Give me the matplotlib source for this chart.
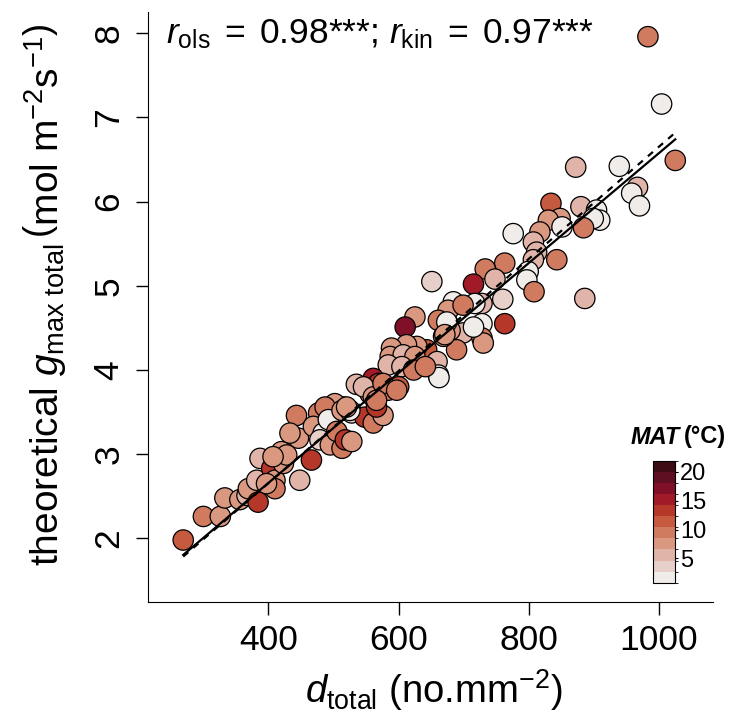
import matplotlib
matplotlib.use("Agg")
import matplotlib.pyplot as plt
import numpy as np
from matplotlib.colors import ListedColormap, BoundaryNorm
from matplotlib.cm import ScalarMappable

plt.rcParams["font.family"] = ["Liberation Sans", "DejaVu Sans"]
plt.rcParams["mathtext.fontset"] = "custom"
plt.rcParams["mathtext.rm"] = "Liberation Sans"
plt.rcParams["mathtext.it"] = "Liberation Sans:italic"
plt.rcParams["mathtext.bf"] = "Liberation Sans:bold"

# stomatal density (no. mm-2), theoretical gmax total, mean annual temperature (°C)
d_total = [
    983, 1004, 1025, 872, 939, 967, 958, 970, 834, 880, 904, 909, 899, 884, 848,
    830, 851, 776, 817, 807, 812, 807, 843, 763, 799, 797, 808, 886, 760, 733,
    748, 715, 728, 717, 728, 763, 699, 728, 651, 684, 676, 699, 625, 610, 676,
    661, 679, 730, 689, 669, 643, 628, 612, 589, 587, 607, 625, 659, 661, 662,
    584, 605, 623, 641, 535, 561, 569, 584, 600, 556, 546, 515, 502, 269, 300,
    326, 333, 356, 367, 369, 384, 382, 387, 405, 410, 410, 423, 420, 448, 466,
    446, 443, 477, 487, 469, 484, 492, 479, 495, 505, 513, 518, 528, 513, 528,
    548, 561, 561, 525, 397, 428, 433, 520, 576, 566, 576, 597, 674, 671, 715,
    407, 566,
]
gmax_total = [
    7.96, 7.16, 6.49, 6.41, 6.42, 6.17, 6.10, 5.95, 5.98, 5.94, 5.90, 5.78, 5.80, 5.69, 5.80,
    5.78, 5.70, 5.62, 5.64, 5.52, 5.40, 5.31, 5.31, 5.27, 5.17, 5.07, 4.93, 4.85, 4.84, 5.20,
    5.08, 5.02, 4.79, 4.79, 4.55, 4.55, 4.44, 4.38, 5.05, 4.81, 4.71, 4.77, 4.63, 4.51, 4.55,
    4.59, 4.47, 4.32, 4.24, 4.40, 4.24, 4.28, 4.30, 4.26, 4.16, 4.18, 4.16, 4.10, 3.94, 3.91,
    4.06, 4.04, 4.00, 4.04, 3.83, 3.90, 3.84, 3.76, 3.80, 3.72, 3.80, 3.56, 3.60, 1.98, 2.26,
    2.26, 2.48, 2.46, 2.51, 2.59, 2.43, 2.69, 2.95, 2.83, 2.69, 2.59, 2.89, 3.03, 2.69, 2.93,
    3.19, 3.46, 3.49, 3.56, 3.33, 3.25, 3.41, 3.17, 3.11, 3.27, 3.07, 3.17, 3.15, 3.52, 3.49,
    3.44, 3.68, 3.37, 3.52, 2.65, 2.99, 3.25, 3.56, 3.46, 3.56, 3.84, 3.76, 4.57, 4.42, 4.51,
    2.97, 3.64,
]
mat = [
    9.4, 1.8, 9.4, 5.6, 1.8, 5.6, 1.8, 1.8, 11.3, 5.6, 1.8, 1.8, 1.8, 9.4, 7.5,
    7.5, 1.8, 1.8, 7.5, 5.6, 5.6, 5.6, 9.4, 9.4, 1.8, 1.8, 9.4, 5.6, 3.7, 9.4,
    5.6, 15.2, 5.6, 1.8, 1.8, 13.3, 5.6, 9.4, 3.7, 1.8, 7.5, 9.4, 7.5, 17.1, 1.8,
    9.4, 7.5, 7.5, 9.4, 7.5, 11.3, 7.5, 7.5, 7.5, 7.5, 5.6, 7.5, 5.6, 1.8, 1.8,
    5.6, 5.6, 9.4, 9.4, 5.6, 15.2, 13.3, 9.4, 11.3, 7.5, 5.6, 9.4, 7.5, 11.3, 9.4,
    7.5, 7.5, 7.5, 5.6, 7.5, 13.3, 5.6, 5.6, 13.3, 7.5, 9.4, 7.5, 7.5, 5.6, 13.3,
    7.5, 9.4, 9.4, 9.4, 7.5, 1.8, 1.8, 3.7, 7.5, 9.4, 9.4, 13.3, 7.5, 7.5, 3.7,
    13.3, 7.5, 9.4, 1.8, 7.5, 7.5, 7.5, 7.5, 7.5, 13.3, 9.4, 9.4, 1.8, 7.5, 1.8,
    7.5, 9.4,
]

# fitted lines: (intercept, slope)
ols_fit = (0.047, 0.00653)
kin_fit = (-0.009, 0.006662)

mat_colors = [
    "#f0ecea", "#e8d0ca", "#e0b4a8", "#d9987f", "#d07a5f", "#c55a3f",
    "#b5372a", "#a01a28", "#7f1028", "#5e0f22", "#3d0c14",
]
mat_edges = np.linspace(0.8, 21.9, len(mat_colors) + 1)
mat_ticks = [5, 10, 15, 20]

cmap = ListedColormap(mat_colors)
norm = BoundaryNorm(mat_edges, cmap.N)

fig = plt.figure(figsize=(7.3, 7.12), dpi=100)
ax = fig.add_axes([0.2023, 0.1549, 0.7740, 0.8287])

ax.scatter(d_total, gmax_total, c=mat, cmap=cmap, norm=norm, s=215,
           edgecolors="black", linewidths=0.9, zorder=2)

xs = np.array([min(d_total), max(d_total)])
ax.plot(xs, ols_fit[0] + ols_fit[1] * xs, color="black", lw=1.6, zorder=3)
ax.plot(xs, kin_fit[0] + kin_fit[1] * xs, color="black", lw=1.6,
        linestyle=(0, (3, 3)), zorder=3)

ax.set_xlim(214.4, 1082.5)
ax.set_ylim(1.247, 8.257)
ax.spines["top"].set_visible(False)
ax.spines["right"].set_visible(False)
ax.set_xticks([400, 600, 800, 1000])
ax.set_yticks([2, 3, 4, 5, 6, 7, 8])
ax.tick_params(axis="both", direction="out", length=9, width=1, labelsize=25.5)
ax.tick_params(axis="x", pad=7)
ax.tick_params(axis="y", pad=7)
for lab in ax.get_yticklabels():
    lab.set_rotation(90)
    lab.set_va("center")

fig.text(434 / 730, 1 - 690 / 712,
         r"$d_{\mathrm{total}}$ (no.mm$^{-2}$)",
         ha="center", va="center", fontsize=27.5)
fig.text(45 / 730, 1 - 295 / 712,
         r"theoretical $g_{\mathrm{max\ total}}\,\left(\mathrm{mol\ m}^{-2}\mathrm{s}^{-1}\right)$",
         ha="center", va="center", rotation=90, fontsize=28)

fig.text(166 / 730, 1 - 43 / 712,
         r"$r_{\mathrm{ols}}\;=\;\mathrm{0.98}$***; $r_{\mathrm{kin}}\;=\;\mathrm{0.97}$***",
         ha="left", va="baseline", fontsize=25.5)

# colour bar for MAT
cax = fig.add_axes([652.7 / 730, 1 - 582.7 / 712, 22.3 / 730, 122 / 712])
cb = fig.colorbar(ScalarMappable(norm=norm, cmap=cmap), cax=cax, ticks=mat_ticks)
cb.outline.set_linewidth(0.8)
cb.ax.tick_params(length=2.5, width=0.8, labelsize=17, pad=1)
fig.text(680 / 730, 1 - 437 / 712, "MAT", ha="right", va="center",
         fontsize=17, fontweight="bold", fontstyle="italic")
fig.text(684 / 730, 1 - 437 / 712, "(°C)", ha="left", va="center",
         fontsize=17, fontweight="bold")

fig.savefig("out.png", dpi=100)
